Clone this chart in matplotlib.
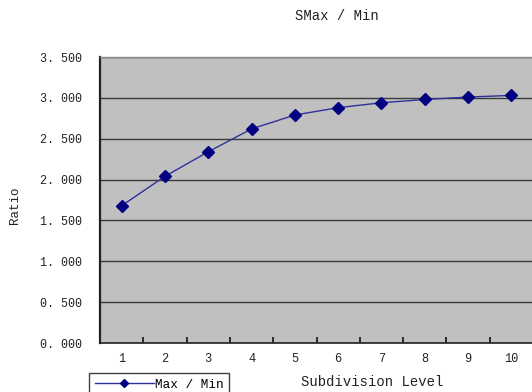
import matplotlib
matplotlib.use("Agg")
import matplotlib.pyplot as plt
from matplotlib.ticker import FixedLocator, FuncFormatter
import numpy as np

levels = ["1", "2", "3", "4", "5", "6", "7", "8", "9", "10"]
ratio = [1.68, 2.04, 2.34, 2.62, 2.79, 2.88, 2.94, 2.98, 3.01, 3.03]
yticks = [0.0, 0.5, 1.0, 1.5, 2.0, 2.5, 3.0, 3.5]

mono = "Liberation Mono"
navy = "#000080"


def ratio_fmt(v, pos):
    # "3. 500" style labels
    return ("%.3f" % v).replace(".", ". ")


fig = plt.figure(figsize=(5.32, 3.92), dpi=100)
ax = fig.add_axes([100 / 532, 1 - 343 / 392, 433 / 532, (343 - 57) / 392])
ax.set_facecolor("#c0c0c0")

x = np.arange(len(levels))
line, = ax.plot(x, ratio, color="#30309a", lw=1.0, marker="D", ms=6,
                mfc=navy, mec=navy, label="Max / Min")

ax.set_xlim(-0.5, len(levels) - 0.5)
ax.set_ylim(0, 3.5)

# horizontal grid only
ax.set_yticks(yticks)
ax.yaxis.set_major_formatter(FuncFormatter(ratio_fmt))
ax.grid(axis="y", color="#3a3a3a", lw=1.0)
ax.set_axisbelow(True)
ax.tick_params(axis="y", length=0, pad=13, labelsize=8.4, labelcolor="#222222")
for lbl in ax.get_yticklabels():
    lbl.set_family(mono)

# category labels at centres, tick marks at the boundaries
ax.set_xticks(x)
ax.set_xticklabels(levels, family=mono, fontsize=8.6, color="#222222")
ax.tick_params(axis="x", which="major", length=0, pad=7)
ax.xaxis.set_minor_locator(FixedLocator(np.arange(0.5, len(levels) - 0.5, 1.0)))
ax.tick_params(axis="x", which="minor", direction="in", length=4, width=1.2, color="#111111")

ax.spines["left"].set_linewidth(1.6)
ax.spines["left"].set_color("#222222")
ax.spines["bottom"].set_linewidth(1.2)
ax.spines["bottom"].set_color("#222222")
ax.spines["top"].set_color("#8a8a8a")
ax.spines["top"].set_linewidth(1.0)
ax.spines["right"].set_visible(False)

fig.text(337 / 532, 1 - 16 / 392, "SMax / Min", family=mono, fontsize=10,
         ha="center", va="center", color="#222222")
fig.text(15 / 532, 1 - 205 / 392, "Ratio", family=mono, fontsize=9,
         rotation=90, ha="center", va="center", color="#222222")
fig.text(372 / 532, 1 - 382 / 392, "Subdivision Level", family=mono, fontsize=10,
         ha="center", va="center", color="#222222")

leg = fig.legend(handles=[line], loc="upper left", bbox_to_anchor=(89 / 532, 1 - 373 / 392),
                 prop={"family": mono, "size": 9.2}, frameon=True, fancybox=False,
                 handlelength=4.6, handletextpad=0.1, borderpad=0.45, borderaxespad=0,
                 markerscale=0.75)
leg.get_frame().set_edgecolor("#111111")
leg.get_frame().set_linewidth(1.0)
leg.get_frame().set_facecolor("white")

fig.savefig("out.png", dpi=100)
